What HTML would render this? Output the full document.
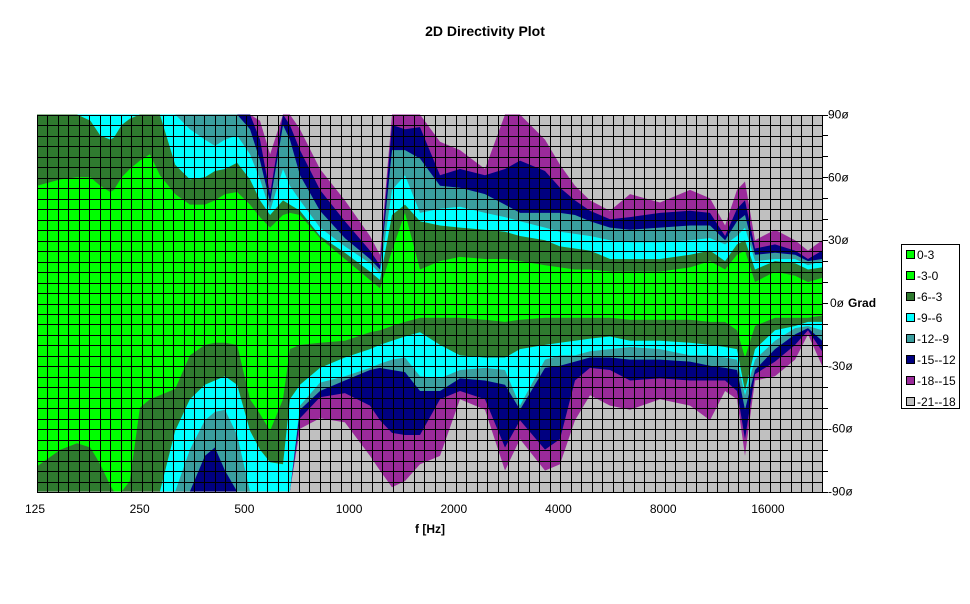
<!DOCTYPE html>
<html><head><meta charset="utf-8"><style>
body{margin:0;background:#fff;}
svg{display:block;font-family:"Liberation Sans",Arial,sans-serif;}
</style></head><body>
<svg id="chart" width="970" height="604" viewBox="0 0 970 604" xmlns="http://www.w3.org/2000/svg">
<rect width="970" height="604" fill="#fff"/>
<text x="485" y="36" text-anchor="middle" font-size="14" font-weight="bold">2D Directivity Plot</text>
<g id="plot"></g>
<g id="axes"></g>
<g id="legend"></g>
</svg>
<script>
const freqs=[125,146,163,178,190,203,208,219,231,247,264,282,312,344,380,406,434,470,512,547,585,637,667,713,814,960,1133,1211,1311,1429,1578,1801,2056,2427,2770,3060,3610,3986,4402,4862,5550,6337,7727,9427,10763,11890,12870,13568,14500,16550,18900,20590,22600];
const up3=[56,59,60,60,56,53,54,60,64,68,71,61,52,47,47,49,52,53,47,41,36,42,43,42,31,21,11,7,25,43,16,20,22,21,21,20,18,17,16,16,15,15,15,17,20,16,23,25,10,15,13,10,12];
const up6=[90,90,90,87,80,78,79,85,88,90,90,90,66,59,60,63,64,67,59,49,42,49,47,44,32,24,15,11,42,47,39,37,36,35,34,32,30,27,26,25,21,21,21,23,25,20,28,30,16,20,19,16,17];
const up9=[90,90,90,90,90,90,90,90,90,90,90,90,90,83,78,75,78,80,71,59,44,64,56,49,36,27,19,14,54,61,43,45,46,43,41,39,36,34,33,32,30,29,29,30,31,28,32,36,20,21,21,18,20];
const up12=[90,90,90,90,90,90,90,90,90,90,90,90,90,90,90,90,90,90,83,68,48,85,78,61,44,31,21,16,73,73,69,56,55,52,47,43,43,43,42,39,36,35,36,37,37,30,39,42,23,24,23,20,21];
const up15=[90,90,90,90,90,90,90,90,90,90,90,90,90,90,90,90,90,90,90,78,52,90,85,73,54,39,25,18,85,83,84,61,64,61,64,68,63,55,49,44,40,41,43,44,43,32,45,49,26,28,25,21,25];
const up18=[90,90,90,90,90,90,90,90,90,90,90,90,90,90,90,90,90,90,90,87,71,90,90,83,64,49,32,23,90,90,90,77,73,64,90,90,78,66,56,49,44,52,48,54,50,37,54,58,30,35,30,25,30];
const lo3=[-78,-70,-67,-69,-77,-87,-90,-90,-85,-50,-46,-44,-41,-25,-20,-19,-19,-20,-46,-53,-61,-46,-22,-20,-19,-18,-14,-13,-11,-9,-7,-7,-7,-8,-9,-8,-7,-7,-7,-7,-7,-8,-8,-8,-9,-9,-13,-26,-11,-7,-7,-7,-6];
const lo6=[-90,-90,-90,-90,-90,-90,-90,-90,-90,-90,-90,-90,-61,-46,-39,-37,-35,-39,-61,-70,-76,-77,-46,-39,-31,-26,-22,-20,-18,-16,-14,-20,-25,-26,-26,-22,-20,-19,-18,-17,-16,-18,-18,-19,-20,-21,-22,-42,-22,-13,-11,-9,-9];
const lo9=[-90,-90,-90,-90,-90,-90,-90,-90,-90,-90,-90,-90,-90,-70,-56,-52,-51,-63,-90,-90,-90,-90,-90,-49,-38,-35,-31,-29,-27,-26,-35,-36,-32,-31,-32,-49,-27,-25,-25,-23,-22,-21,-22,-25,-25,-26,-27,-44,-27,-18,-12,-11,-13];
const lo12=[-90,-90,-90,-90,-90,-90,-90,-90,-90,-90,-90,-90,-90,-90,-73,-69,-80,-90,-90,-90,-90,-90,-90,-51,-42,-37,-32,-31,-32,-33,-42,-42,-36,-37,-39,-51,-31,-30,-28,-26,-26,-27,-27,-28,-30,-31,-32,-51,-32,-22,-15,-12,-18];
const lo15=[-90,-90,-90,-90,-90,-90,-90,-90,-90,-90,-90,-90,-90,-90,-90,-90,-90,-90,-90,-90,-90,-90,-90,-55,-45,-43,-49,-56,-62,-63,-63,-46,-42,-46,-69,-56,-70,-65,-37,-31,-32,-37,-36,-37,-37,-37,-42,-65,-34,-28,-20,-13,-23];
const lo18=[-90,-90,-90,-90,-90,-90,-90,-90,-90,-90,-90,-90,-90,-90,-90,-90,-90,-90,-90,-90,-90,-90,-90,-60,-55,-57,-73,-80,-88,-85,-77,-73,-46,-51,-80,-65,-80,-77,-56,-44,-49,-51,-46,-49,-56,-42,-46,-73,-37,-35,-27,-15,-30];
const xTickLabels=["125","250","500","1000","2000","4000","8000","16000"];
const xTickValues=[125,250,500,1000,2000,4000,8000,16000];
const yTickLabels=["90ø","60ø","30ø","0ø","-30ø","-60ø","-90ø"];
const yTickValues=[90,60,30,0,-30,-60,-90];
const legendLabels=["0-3","-3-0","-6--3","-9--6","-12--9","-15--12","-18--15","-21--18"];

const NS="http://www.w3.org/2000/svg";
const X0=37,X1=822,Y0=115,Y1=492,OCT=104.7;
function xs(f){return X0+OCT*Math.log2(f/125);}
function ys(a){return 303-a*((Y1-Y0)/180);}
function mk(tag,attrs,parent){const e=document.createElementNS(NS,tag);for(const k in attrs)e.setAttribute(k,attrs[k]);parent.appendChild(e);return e;}
const plot=document.getElementById('plot');
const axes=document.getElementById('axes');
const legend=document.getElementById('legend');
const colors=["#00ff00","#00ff00","#2f7a2f","#00ffff","#3a9e9e","#000080","#9a2a9a","#c0c0c0"];
const bg=mk('rect',{x:X0,y:Y0,width:X1-X0,height:Y1-Y0,fill:colors[7]},plot);


const bands=[[up18,lo18,6,'band-18-15'],[up15,lo15,5,'band-15-12'],[up12,lo12,4,'band-12-9'],[up9,lo9,3,'band-9-6'],[up6,lo6,2,'band-6-3'],[up3,lo3,0,'band-3-0']];
bands.forEach(b=>{
  const u=b[0],l=b[1];let pts=[];
  for(let i=0;i<freqs.length;i++)pts.push(xs(freqs[i]).toFixed(1)+','+ys(u[i]).toFixed(1));
  for(let i=freqs.length-1;i>=0;i--)pts.push(xs(freqs[i]).toFixed(1)+','+ys(l[i]).toFixed(1));
  const p=mk('polygon',{points:pts.join(' '),fill:colors[b[2]]},plot);
  
  
});
// grid
let gd='';
const nc=75,nr=36;
for(let i=0;i<=nc;i++){const x=Math.round(X0+(X1-X0)*i/nc)+0.5;gd+='M'+x+' '+Y0+'V'+Y1;}
for(let j=0;j<=nr;j++){const y=Math.round(Y0+(Y1-Y0)*j/nr)+0.5;gd+='M'+X0+' '+y+'H'+X1;}
const grid=mk('path',{d:gd,stroke:'#000','stroke-width':1,fill:'none'},plot);


const frame=mk('rect',{x:X0+0.5,y:Y0+0.5,width:X1-X0,height:Y1-Y0,fill:'none',stroke:'#000'},plot);


// right axis ticks every 10 deg
let td='';
for(let a=-90;a<=90;a+=10){const y=Math.round(ys(a))+0.5;td+='M'+X1+' '+y+'H'+(X1+6);}
const ticks=mk('path',{d:td,stroke:'#000',fill:'none'},axes);


yTickValues.forEach((v,i)=>{
  const t=mk('text',{x:v===0?830:828,y:ys(v)+4,'font-size':12},axes);
  t.textContent=yTickLabels[i];
  if(v===0){const g=mk('tspan',{'font-weight':'bold',dx:4},t);g.textContent='Grad';}
  
  
});
xTickValues.forEach((v,i)=>{
  const t=mk('text',{x:xs(v)-2,y:513,'font-size':12,'text-anchor':'middle'},axes);
  t.textContent=xTickLabels[i];
  
  
});
const xt=mk('text',{x:430,y:533,'font-size':12,'font-weight':'bold','text-anchor':'middle'},axes);
xt.textContent='f [Hz]';


// legend
const lb=mk('rect',{x:901.5,y:244.5,width:58,height:164,fill:'#fff',stroke:'#000'},legend);


legendLabels.forEach((s,i)=>{
  const y=255+i*21;
  const r=mk('rect',{x:906.5,y:y-4.5,width:8,height:8,fill:colors[i],stroke:'#000'},legend);
  
  
  const t=mk('text',{x:917,y:y+4,'font-size':12},legend);
  t.textContent=s;
  
  
});
</script>
</body></html>
